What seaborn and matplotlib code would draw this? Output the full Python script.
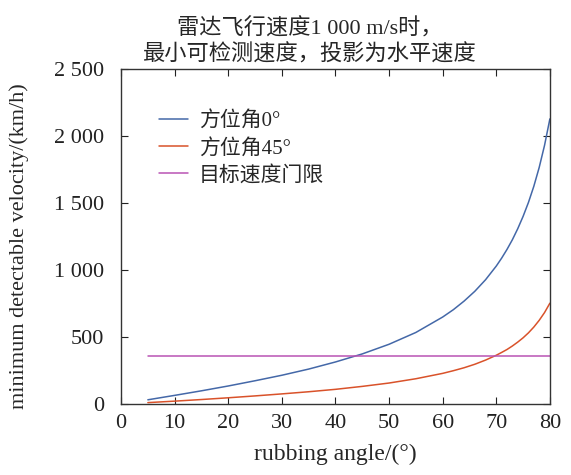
import numpy as np
import pandas as pd
import seaborn as sns
import matplotlib.pyplot as plt
from matplotlib.ticker import FuncFormatter

# values
angle = [5, 10, 15, 20, 25, 30, 35, 40, 45, 50, 55, 60, 62, 64, 66, 68, 70,
         71, 72, 73, 74, 75, 76, 77, 78, 79, 80]
v_az0 = [33, 66, 100, 136, 175, 216, 262, 315, 375, 447, 535, 650, 705, 769, 842, 928, 1030,
         1089, 1154, 1226, 1308, 1400, 1504, 1624, 1764, 1929, 2127]
v_az45 = [12, 23, 35, 48, 62, 77, 93, 111, 133, 158, 190, 230, 250, 272, 298, 329, 365,
          386, 408, 434, 463, 495, 532, 575, 625, 683, 753]
threshold = [360] * len(angle)
labels = ['方位角0°', '方位角45°', '目标速度门限']

sns.set_style('ticks')
plt.rcParams['font.family'] = ['Liberation Serif', 'Noto Sans CJK SC', 'DejaVu Sans']
plt.rcParams['axes.unicode_minus'] = False

n = len(angle)
df = pd.DataFrame({'angle': angle * 3,
                   'v': v_az0 + v_az45 + threshold,
                   'series': [labels[0]] * n + [labels[1]] * n + [labels[2]] * n})

fig = plt.figure(figsize=(5.71, 4.75), dpi=100)
ax = fig.add_axes([0.212, 0.149, 0.751, 0.706])
palette = {labels[0]: '#4468a8', labels[1]: '#d9522a', labels[2]: '#b954b4'}
sns.lineplot(data=df, x='angle', y='v', hue='series', palette=palette, linewidth=1.1, ax=ax)

ax.set_xlim(0, 80)
ax.set_ylim(0, 2500)
ax.set_xticks(range(0, 81, 10))
ax.set_yticks(range(0, 2501, 500))
ax.yaxis.set_major_formatter(FuncFormatter(lambda v, p: f'{int(v):,}'.replace(',', ' ')))
ax.tick_params(direction='in', length=5, width=0.8, top=True, right=True, labelsize=16, colors='#222222')
ax.tick_params(axis='x', pad=7)
ax.tick_params(axis='y', pad=12)
for s in ax.spines.values():
    s.set_color('#333333')
    s.set_linewidth(1.0)

ax.set_xlabel('rubbing angle/(°)', fontsize=17, labelpad=8)
ax.set_ylabel('minimum detectable velocity/(km/h)', fontsize=16)
ax.yaxis.set_label_coords(-0.215, 0.47)
ax.set_title('雷达飞行速度1 000 m/s时，\n最小可检测速度，投影为水平速度', fontsize=16,
             linespacing=1.3, pad=6, x=0.44)

leg = ax.legend(loc='upper left', bbox_to_anchor=(0.045, 0.93), frameon=False, fontsize=15,
                handlelength=1.4, handletextpad=0.5, labelspacing=0.35)

fig.savefig('out.png', dpi=100)
